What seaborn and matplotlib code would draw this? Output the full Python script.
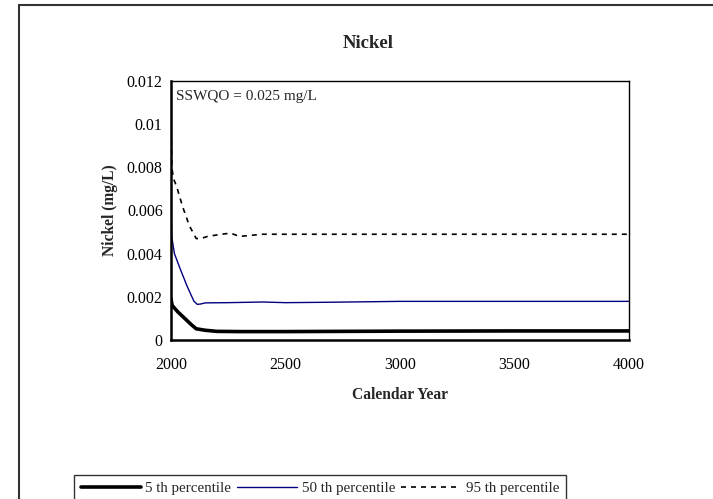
import numpy as np
import pandas as pd
import matplotlib
matplotlib.use("Agg")
import matplotlib.pyplot as plt
import seaborn as sns
from matplotlib.patches import Rectangle

# values
years_p5 = [2000, 2005, 2030, 2060, 2090, 2110, 2150, 2200, 2300, 2500, 3000, 3500, 4000]
nickel_p5 = [0.0019, 0.0016, 0.0013, 0.0010, 0.0007, 0.00052, 0.00045, 0.00040, 0.00039, 0.00039, 0.00041, 0.00042, 0.00042]

years_p50 = [2000, 2003, 2015, 2040, 2070, 2100, 2115, 2130, 2150, 2250, 2400, 2500, 2700, 3000, 3500, 4000]
nickel_p50 = [0.0062, 0.0048, 0.0040, 0.0033, 0.0025, 0.0018, 0.00165, 0.00167, 0.00172, 0.00173, 0.00176, 0.00173, 0.00175, 0.00179, 0.00179, 0.00179]

years_p95 = [2000, 2004, 2010, 2025, 2050, 2080, 2110, 2130, 2160, 2220, 2260, 2300, 2400, 2500, 3000, 3500, 4000]
nickel_p95 = [0.0102, 0.0080, 0.0075, 0.0071, 0.0062, 0.0053, 0.0047, 0.0047, 0.0048, 0.0049, 0.00495, 0.0048, 0.0049, 0.0049, 0.0049, 0.0049, 0.0049]

labels = ["5 th percentile", "50 th percentile", "95 th percentile"]

sns.set_style("white")
plt.rcParams['font.family'] = ['Liberation Serif', 'DejaVu Serif']

fig = plt.figure(figsize=(7.13, 4.99), dpi=100)
ax = fig.add_axes([171/713, 1-340/499, (629-171)/713, (340-81)/499])

df5 = pd.DataFrame({'year': years_p5, 'ni': nickel_p5})
df50 = pd.DataFrame({'year': years_p50, 'ni': nickel_p50})
df95 = pd.DataFrame({'year': years_p95, 'ni': nickel_p95})

sns.lineplot(data=df5, x='year', y='ni', ax=ax, color='black', linewidth=2.6, label=labels[0])
sns.lineplot(data=df50, x='year', y='ni', ax=ax, color='#000080', linewidth=1.0, label=labels[1])
sns.lineplot(data=df95, x='year', y='ni', ax=ax, color='black', linewidth=1.2, label=labels[2])
ax.lines[2].set_dashes([3, 3])

ax.set_xlim(2000, 4000)
ax.set_ylim(0, 0.012)
ax.set_xticks([2000, 2500, 3000, 3500, 4000])
ax.set_yticks([0, 0.002, 0.004, 0.006, 0.008, 0.01, 0.012])
ax.set_yticklabels(['0', '0.002', '0.004', '0.006', '0.008', '0.01', '0.012'])
ax.tick_params(direction='inout', length=6, width=0.8, labelsize=11.5, colors='black')
ax.tick_params(axis='x', pad=9)
ax.tick_params(axis='y', pad=3)
for s in ax.spines.values():
    s.set_color('black')
    s.set_linewidth(1.0)
ax.spines['left'].set_linewidth(1.8)
ax.spines['bottom'].set_linewidth(1.8)

fig.text(368/713, 1-43/499, 'Nickel', fontsize=13.5, fontweight='bold', ha='center', va='center')
ax.set_xlabel('Calendar Year', fontsize=11.2, fontweight='bold', labelpad=10)
ax.set_ylabel('Nickel (mg/L)', fontsize=11.2, fontweight='bold', labelpad=6)
ax.text(0.012, 0.965, 'SSWQO = 0.025 mg/L', transform=ax.transAxes, fontsize=11, va='top', ha='left')

h, l = ax.get_legend_handles_labels()
ax.get_legend().remove()
leg = fig.legend(h, l, loc='upper left', bbox_to_anchor=(74/713, 1-475/499), ncol=3,
                 frameon=True, fancybox=False, edgecolor='black', fontsize=10.8,
                 handlelength=4.0, handletextpad=0.3, columnspacing=0.4, borderpad=0.45,
                 borderaxespad=0)
leg.get_frame().set_linewidth(1.0)

fig.patches.append(Rectangle((19/713, -0.1), 1.0, 1-5/499 + 0.1, transform=fig.transFigure,
                             fill=False, edgecolor='#333333', linewidth=1.5))

fig.savefig('out.png', dpi=100)
